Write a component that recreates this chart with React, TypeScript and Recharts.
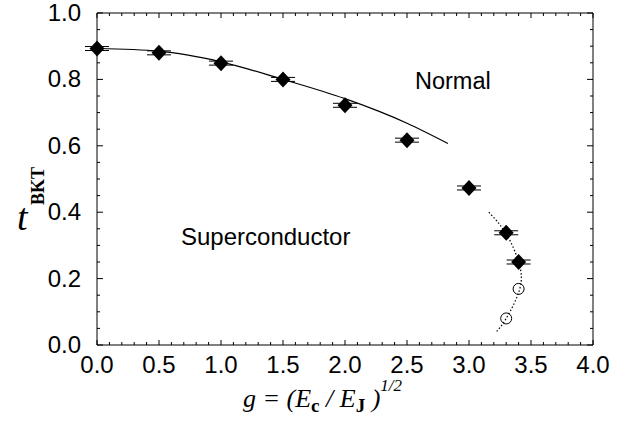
import { ComposedChart, Scatter, Line, XAxis, YAxis, ErrorBar, Customized } from 'recharts';

// measured T_BKT points (filled diamonds)
const gValues = [0, 0.5, 1.0, 1.5, 2.0, 2.5, 3.0, 3.3, 3.4];
const tValues = [0.893, 0.880, 0.849, 0.800, 0.722, 0.617, 0.473, 0.338, 0.250];
const tErrors = [0.006, 0.006, 0.006, 0.006, 0.006, 0.006, 0.006, 0.006, 0.006];

// open circles near the re-entrant part
const openG = [3.3, 3.4];
const openT = [0.080, 0.169];

// solid curve
const fitG = [0, 0.5, 1.0, 1.5, 2.0, 2.5, 2.83];
const fitT = [0.893, 0.885, 0.853, 0.800, 0.742, 0.668, 0.607];

// dotted curve
const dotG = [3.16, 3.30, 3.40, 3.41, 3.30, 3.22];
const dotT = [0.400, 0.335, 0.250, 0.170, 0.080, 0.040];

const xTicks = Array.from({ length: 41 }, (_, i) => i / 10);
const yTicks = Array.from({ length: 21 }, (_, i) => i / 20);

const diamonds = gValues.map((g, i) => ({ x: g, y: tValues[i], err: tErrors[i] }));
const circles = openG.map((g, i) => ({ x: g, y: openT[i] }));
const fitLine = fitG.map((g, i) => ({ x: g, y: fitT[i] }));
const dotLine = dotG.map((g, i) => ({ x: g, y: dotT[i] }));

const sans = '"Liberation Sans", Arial, sans-serif';
const serif = '"Liberation Serif", "Times New Roman", serif';
const tickFont = { fontFamily: sans, fontSize: 24, fill: '#000' };

const isMajorX = (v: number) => Math.round(v * 10) % 5 === 0;
const isMajorY = (v: number) => Math.round(v * 20) % 4 === 0;

const BottomTick = (props: any) => {
    const { x, y, payload } = props;
    const major = isMajorX(payload.value);
    return (
        <g>
            <line x1={x} y1={y} x2={x} y2={y - (major ? 5 : 3)} stroke="#000" />
            {major && (
                <text x={x} y={y + 28} textAnchor="middle" {...tickFont}>
                    {payload.value.toFixed(1)}
                </text>
            )}
        </g>
    );
};

const TopTick = (props: any) => {
    const { x, y, payload } = props;
    const major = isMajorX(payload.value);
    return <line x1={x} y1={y} x2={x} y2={y + (major ? 5 : 3)} stroke="#000" />;
};

const LeftTick = (props: any) => {
    const { x, y, payload } = props;
    const major = isMajorY(payload.value);
    return (
        <g>
            <line x1={x} y1={y} x2={x + (major ? 6 : 3)} y2={y} stroke="#000" />
            {major && (
                <text x={x - 16} y={y + 8} textAnchor="end" {...tickFont}>
                    {payload.value.toFixed(1)}
                </text>
            )}
        </g>
    );
};

const RightTick = (props: any) => {
    const { x, y, payload } = props;
    const major = isMajorY(payload.value);
    return <line x1={x} y1={y} x2={x - (major ? 6 : 3)} y2={y} stroke="#000" />;
};

const Diamond = (props: any) => {
    const { cx, cy } = props;
    return <polygon points={`${cx},${cy - 8} ${cx + 7.5},${cy} ${cx},${cy + 8} ${cx - 7.5},${cy}`} fill="#000" />;
};

const OpenCircle = (props: any) => {
    const { cx, cy } = props;
    return <circle cx={cx} cy={cy} r={5.5} fill="none" stroke="#000" strokeWidth={1} />;
};

const Annotations = () => (
    <g>
        <text x={415} y={89} fontFamily={sans} fontSize={23.5} fill="#000">
            Normal
        </text>
        <text x={181} y={245} fontFamily={sans} fontSize={24} fill="#000">
            Superconductor
        </text>
        <text x={17} y={230} fontFamily={serif} fontSize={38} fontStyle="italic" fill="#000">
            t
        </text>
        <text
            transform="translate(44,205) rotate(-90)"
            fontFamily={serif}
            fontSize={18}
            fontWeight="bold"
            fill="#000"
        >
            BKT
        </text>
        <text x={243} y={407} fontFamily={serif} fontSize={26} fontStyle="italic" fill="#000">
            g = (E
            <tspan fontSize={19} fontWeight="bold" fontStyle="normal" dy={5}>c</tspan>
            <tspan dy={-5}> / E</tspan>
            <tspan fontSize={19} fontWeight="bold" fontStyle="normal" dy={5}>J</tspan>
            <tspan dy={-5}> )</tspan>
            <tspan fontSize={17} dy={-16}>1/2</tspan>
        </text>
    </g>
);

export default function App() {
    return (
        <div style={{ position: 'absolute', left: 0, top: 0, background: '#fff' }}>
            <ComposedChart width={626} height={422} margin={{ top: 12, right: 32, bottom: 76, left: 96 }}>
                <XAxis
                    xAxisId="bottom"
                    type="number"
                    dataKey="x"
                    domain={[0, 4]}
                    ticks={xTicks}
                    interval={0}
                    height={1}
                    tickSize={0}
                    tickMargin={0}
                    tickLine={false}
                    axisLine={{ stroke: '#000' }}
                    tick={BottomTick}
                />
                <XAxis
                    xAxisId="top"
                    orientation="top"
                    type="number"
                    dataKey="x"
                    domain={[0, 4]}
                    allowDataOverflow
                    ticks={xTicks}
                    interval={0}
                    height={1}
                    tickSize={0}
                    tickMargin={0}
                    tickLine={false}
                    axisLine={{ stroke: '#000' }}
                    tick={TopTick}
                />
                <YAxis
                    yAxisId="left"
                    type="number"
                    domain={[0, 1]}
                    ticks={yTicks}
                    interval={0}
                    width={1}
                    tickSize={0}
                    tickMargin={0}
                    tickLine={false}
                    axisLine={{ stroke: '#000' }}
                    tick={LeftTick}
                />
                <YAxis
                    yAxisId="right"
                    orientation="right"
                    type="number"
                    domain={[0, 1]}
                    allowDataOverflow
                    ticks={yTicks}
                    interval={0}
                    width={1}
                    tickSize={0}
                    tickMargin={0}
                    tickLine={false}
                    axisLine={{ stroke: '#000' }}
                    tick={RightTick}
                />
                <Line
                    xAxisId="bottom"
                    yAxisId="left"
                    data={fitLine}
                    dataKey="y"
                    type="monotone"
                    stroke="#000"
                    strokeWidth={1.2}
                    dot={false}
                    activeDot={false}
                    isAnimationActive={false}
                />
                <Line
                    xAxisId="bottom"
                    yAxisId="left"
                    data={dotLine}
                    dataKey="y"
                    type="natural"
                    stroke="#000"
                    strokeWidth={1.2}
                    strokeDasharray="1.5 2"
                    dot={false}
                    activeDot={false}
                    isAnimationActive={false}
                />
                <Scatter
                    xAxisId="bottom"
                    yAxisId="left"
                    data={circles}
                    dataKey="y"
                    shape={OpenCircle}
                    isAnimationActive={false}
                />
                <Scatter
                    xAxisId="bottom"
                    yAxisId="left"
                    data={diamonds}
                    dataKey="y"
                    shape={Diamond}
                    isAnimationActive={false}
                >
                    <ErrorBar dataKey="err" direction="y" width={12} stroke="#000" strokeWidth={1} />
                </Scatter>
                <Customized component={Annotations} />
            </ComposedChart>
        </div>
    );
}
